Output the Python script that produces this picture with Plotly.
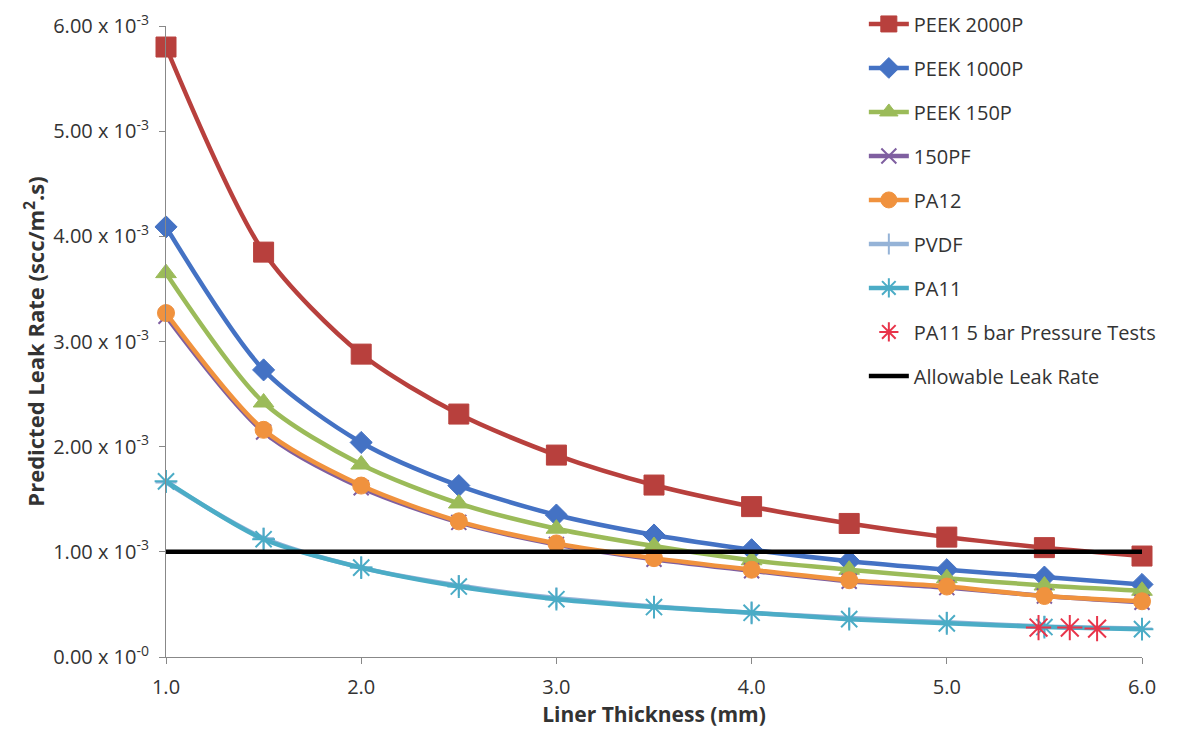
import plotly.graph_objects as go

thickness = [1.0, 1.5, 2.0, 2.5, 3.0, 3.5, 4.0, 4.5, 5.0, 5.5, 6.0]
peek_2000p = [5.80, 3.85, 2.88, 2.31, 1.92, 1.635, 1.43, 1.27, 1.14, 1.04, 0.96]
peek_1000p = [4.09, 2.73, 2.04, 1.63, 1.35, 1.16, 1.02, 0.91, 0.83, 0.76, 0.69]
peek_150p = [3.65, 2.42, 1.83, 1.46, 1.22, 1.055, 0.92, 0.83, 0.75, 0.68, 0.63]
pf_150 = [3.24, 2.14, 1.61, 1.28, 1.07, 0.93, 0.82, 0.72, 0.66, 0.58, 0.52]
pa12 = [3.27, 2.16, 1.63, 1.29, 1.08, 0.94, 0.83, 0.73, 0.67, 0.58, 0.53]
pvdf = [1.66, 1.13, 0.85, 0.68, 0.56, 0.48, 0.42, 0.37, 0.33, 0.29, 0.27]
pa11 = [1.67, 1.12, 0.85, 0.67, 0.55, 0.475, 0.42, 0.36, 0.32, 0.285, 0.265]
test_x = [5.47, 5.63, 5.77]
test_y = [0.28, 0.28, 0.27]
allow_x = [1.0, 6.0]
allow_y = [1.0, 1.0]

y_tickvals = [0, 1, 2, 3, 4, 5, 6]
y_ticktext = ["0.00 x 10<sup>-0</sup>", "1.00 x 10<sup>-3</sup>", "2.00 x 10<sup>-3</sup>",
              "3.00 x 10<sup>-3</sup>", "4.00 x 10<sup>-3</sup>", "5.00 x 10<sup>-3</sup>",
              "6.00 x 10<sup>-3</sup>"]
x_tickvals = [1, 2, 3, 4, 5, 6]
x_ticktext = ["1.0", "2.0", "3.0", "4.0", "5.0", "6.0"]

series = [
    ("PEEK 2000P", peek_2000p, "#B8403D", "square", 20, 1),
    ("PEEK 1000P", peek_1000p, "#4472C4", "diamond", 17, 1),
    ("PEEK 150P", peek_150p, "#9BBB59", "triangle-up", 18, 1),
    ("150PF", pf_150, "#7F5FA0", "x-thin-open", 15, 2),
    ("PA12", pa12, "#F0923E", "circle", 17, 1),
    ("PVDF", pvdf, "#95B3D7", "cross-thin-open", 15, 2),
    ("PA11", pa11, "#4BACC6", "asterisk-open", 19, 2),
]

fig = go.Figure()
for i, (name, vals, color, sym, size, lw) in enumerate(series):
    fig.add_trace(go.Scatter(
        x=thickness, y=vals, name=name, mode="lines+markers",
        line=dict(color=color, width=4.5, shape="spline", smoothing=0.8),
        marker=dict(symbol=sym, size=size, color=color, line=dict(color=color, width=lw)),
        legendgroup=f"g{i}", cliponaxis=False,
    ))

fig.add_trace(go.Scatter(
    x=test_x, y=test_y, name="PA11 5 bar Pressure Tests", mode="markers",
    marker=dict(symbol="asterisk-open", size=21, color="#E8344A", line=dict(color="#E8344A", width=2)),
    legendgroup="g7", cliponaxis=False,
))
fig.add_trace(go.Scatter(
    x=allow_x, y=allow_y, name="Allowable Leak Rate", mode="lines",
    line=dict(color="black", width=4.5), legendgroup="g8",
))

font_family = "Open Sans"
fig.update_layout(
    width=1199, height=740,
    margin=dict(l=166, r=57, t=26, b=83, autoexpand=False),
    paper_bgcolor="white", plot_bgcolor="white",
    font=dict(family=font_family, size=18, color="#333333"),
    legend=dict(x=0.715, y=0.994, xanchor="left", yanchor="top", yref="container",
                font=dict(size=20, color="#333333"), tracegroupgap=15,
                bgcolor="rgba(255,255,255,0)", itemwidth=40, maxheight=730),
    xaxis=dict(range=[1, 6], tickvals=x_tickvals, ticktext=x_ticktext,
               showgrid=False, zeroline=False, showline=True, linecolor="#888888",
               linewidth=1, ticks="outside", ticklen=6, tickcolor="#888888",
               tickfont=dict(size=20), ticklabelstandoff=6,
               title=dict(text="<b>Liner Thickness (mm)</b>", font=dict(size=21), standoff=8)),
    yaxis=dict(range=[0, 6], tickvals=y_tickvals, ticktext=y_ticktext,
               showgrid=False, zeroline=False, showline=True, linecolor="#888888",
               linewidth=1, ticks="outside", ticklen=6, tickcolor="#888888",
               tickfont=dict(size=20), ticklabelstandoff=6,
               title=dict(text="<b>Predicted Leak Rate (scc/m<sup>2</sup>.s)</b>", font=dict(size=22), standoff=2)),
)

fig.write_html("out.html")
